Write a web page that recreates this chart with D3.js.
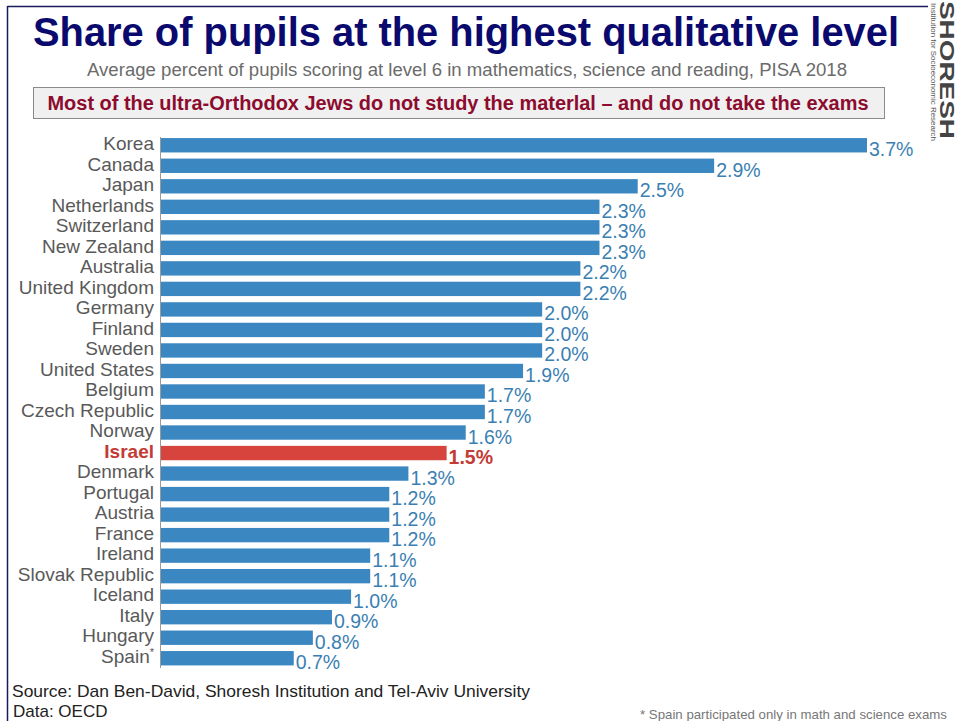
<!DOCTYPE html>
<html>
<head>
<meta charset="utf-8">
<script src="https://cdn.jsdelivr.net/npm/d3@7"></script>
<style>
  html, body { margin: 0; padding: 0; background: #fff; }
  svg { display: block; font-family: "Liberation Sans", Arial, sans-serif; }
</style>
</head>
<body>
<svg id="chart" width="959" height="721"></svg>
<script>
// Share of pupils at PISA level 6 (average of math, science, reading), 2018
const countries = [
  "Korea", "Canada", "Japan", "Netherlands", "Switzerland", "New Zealand",
  "Australia", "United Kingdom", "Germany", "Finland", "Sweden", "United States",
  "Belgium", "Czech Republic", "Norway", "Israel", "Denmark", "Portugal",
  "Austria", "France", "Ireland", "Slovak Republic", "Iceland", "Italy",
  "Hungary", "Spain"
];
const shares = [
  3.7, 2.9, 2.5, 2.3, 2.3, 2.3,
  2.2, 2.2, 2.0, 2.0, 2.0, 1.9,
  1.7, 1.7, 1.6, 1.5, 1.3, 1.2,
  1.2, 1.2, 1.1, 1.1, 1.0, 0.9,
  0.8, 0.7
];
const highlight = "Israel";
const footnoted = ["Spain"];

const rows = countries.map((c, i) => ({ country: c, value: shares[i] }));

const svg = d3.select("#chart");

// frame lines (top and left)
svg.append("line").attr("x1", 7.5).attr("x2", 928).attr("y1", 6.5).attr("y2", 6.5)
  .attr("stroke", "#1a1a5e").attr("stroke-width", 1.5);
svg.append("line").attr("x1", 7.5).attr("x2", 7.5).attr("y1", 6).attr("y2", 721)
  .attr("stroke", "#1a1a5e").attr("stroke-width", 1.5);

// title block
svg.append("text").attr("x", 466).attr("y", 46).attr("text-anchor", "middle")
  .attr("font-size", 40).attr("font-weight", "bold").attr("fill", "#0a0a6e")
  .attr("textLength", 866).attr("lengthAdjust", "spacingAndGlyphs")
  .text("Share of pupils at the highest qualitative level");
svg.append("text").attr("x", 467).attr("y", 76).attr("text-anchor", "middle")
  .attr("font-size", 17.5).attr("fill", "#6b6b6b")
  .attr("textLength", 760).attr("lengthAdjust", "spacingAndGlyphs")
  .text("Average percent of pupils scoring at level 6 in mathematics, science and reading, PISA 2018");

svg.append("rect").attr("x", 33.5).attr("y", 87.5).attr("width", 851).attr("height", 31)
  .attr("fill", "#f0f0f0").attr("stroke", "#8a8a8a").attr("stroke-width", 1);
svg.append("text").attr("x", 458).attr("y", 110).attr("text-anchor", "middle")
  .attr("font-size", 19.5).attr("font-weight", "bold").attr("fill", "#8c0b2e")
  .attr("textLength", 821).attr("lengthAdjust", "spacingAndGlyphs")
  .text("Most of the ultra-Orthodox Jews do not study the materlal \u2013 and do not take the exams");

// logo, written top-to-bottom along the right edge (letter tops face right)
const logo = svg.append("g").attr("transform", "translate(940,1) rotate(90)");
logo.append("text").attr("x", 0).attr("y", 0).attr("font-size", 21).attr("font-weight", "bold")
  .attr("fill", "#444")
  .attr("textLength", 138).attr("lengthAdjust", "spacingAndGlyphs")
  .text("SHORESH");
logo.append("text").attr("x", 2).attr("y", 9).attr("font-size", 8)
  .attr("fill", "#555")
  .attr("textLength", 138).attr("lengthAdjust", "spacingAndGlyphs")
  .text("Institution for Socioeconomic Research");

// scales
const x = d3.scaleLinear().domain([0, 3.7]).range([160, 867]);
const y = d3.scaleBand().domain(countries).range([135, 668.5])
  .paddingInner(0.3).paddingOuter(0.15);

const blue = "#3a87c1";
const red = "#d6443d";

// bars
svg.append("g").selectAll("rect").data(rows).join("rect")
  .attr("x", x(0))
  .attr("y", d => y(d.country))
  .attr("width", d => x(d.value) - x(0))
  .attr("height", y.bandwidth())
  .attr("fill", d => d.country === highlight ? red : blue);

// category axis
const yAxis = d3.axisLeft(y).tickSize(0).tickPadding(6);
const ag = svg.append("g").attr("transform", `translate(${x(0)},0)`).call(yAxis);
ag.select(".domain").attr("stroke", "#9a9a9a").attr("stroke-width", 1)
  .attr("d", `M0.5,${137}V${668}`);
ag.selectAll(".tick text")
  .attr("font-family", "'Liberation Sans', Arial, sans-serif")
  .attr("font-size", 19)
  .attr("dy", "0.25em")
  .attr("fill", d => d === highlight ? "#c43a35" : "#595959")
  .attr("font-weight", d => d === highlight ? "bold" : "normal")
  .each(function(d) {
    if (footnoted.includes(d)) {
      const t = d3.select(this);
      t.text(d);
      t.append("tspan").attr("font-size", 11).attr("dy", "-0.6em").text("*");
    }
  });

// value labels
svg.append("g").selectAll("text").data(rows).join("text")
  .attr("x", d => x(d.value) + 2)
  .attr("y", d => y(d.country) + y.bandwidth() / 2 + 11)
  .attr("font-size", 19.5)
  .attr("fill", d => d.country === highlight ? "#c43a35" : "#3b7fb2")
  .attr("font-weight", d => d.country === highlight ? "bold" : "normal")
  .text(d => d3.format(".1f")(d.value) + "%");

// footer
svg.append("text").attr("x", 12).attr("y", 697).attr("font-size", 17).attr("fill", "#222")
  .attr("textLength", 518).attr("lengthAdjust", "spacingAndGlyphs")
  .text("Source: Dan Ben-David, Shoresh Institution and Tel-Aviv University");
svg.append("text").attr("x", 13).attr("y", 717).attr("font-size", 17).attr("fill", "#222")
  .text("Data: OECD");
svg.append("text").attr("x", 640).attr("y", 719).attr("font-size", 13).attr("fill", "#777")
  .attr("textLength", 307).attr("lengthAdjust", "spacingAndGlyphs")
  .text("* Spain participated only in math and science exams");
</script>
</body>
</html>
